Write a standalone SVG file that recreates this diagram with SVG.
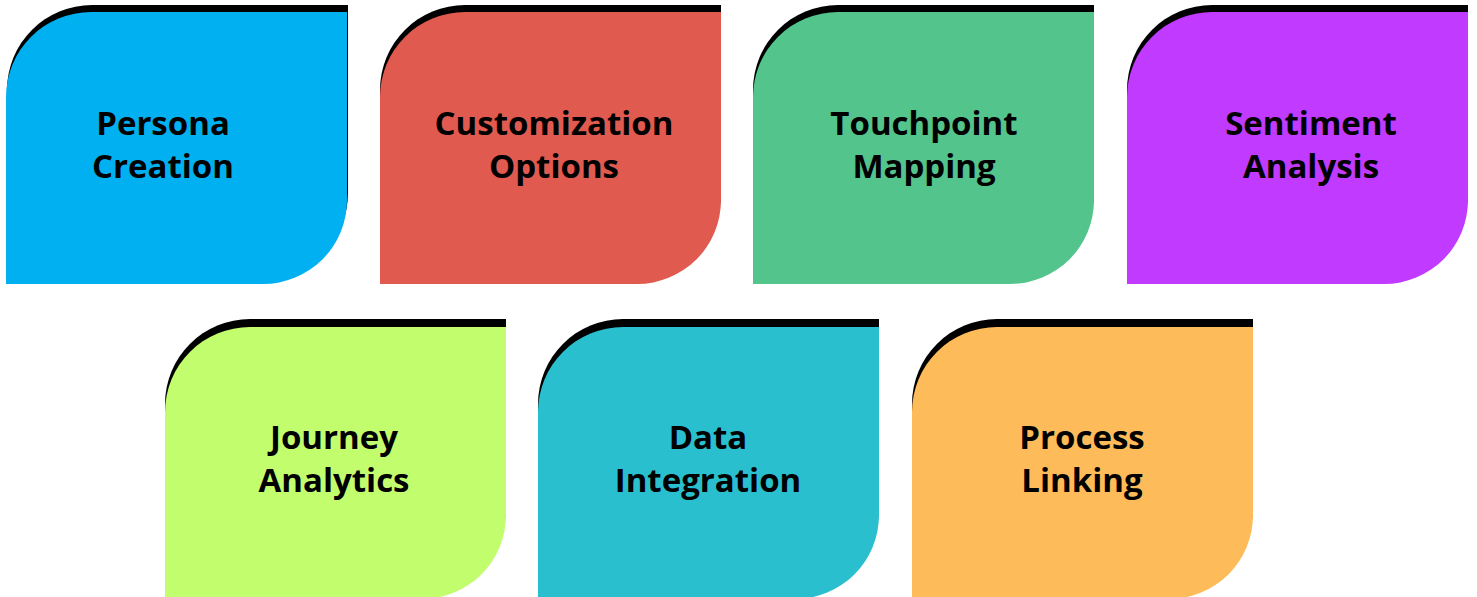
<svg xmlns="http://www.w3.org/2000/svg" width="1477" height="597" viewBox="0 0 1477 597">
<defs>
<style>
.shadow{fill:#000000}
.lbl{font-family:"Open Sans","Noto Sans","Liberation Sans",sans-serif;font-weight:700;font-size:33px;fill:#000000;text-anchor:middle}
</style>
<path id="card" d="M0,85 A85,85 0 0 1 85,0 H341 V188 A84,84 0 0 1 257,272 H0 Z"/>
</defs>
<rect width="1477" height="597" fill="#ffffff"/>
<g id="node-persona">
<use href="#card" class="shadow" x="7" y="5"/>
<use href="#card" fill="#00B0F0" x="6" y="12"/>
<text class="lbl" x="163" y="135">Persona</text>
<text class="lbl" x="163" y="178">Creation</text>
</g>
<g id="node-customization">
<use href="#card" class="shadow" x="380" y="5"/>
<use href="#card" fill="#E15A4F" x="380" y="12"/>
<text class="lbl" x="554" y="135">Customization</text>
<text class="lbl" x="554" y="178">Options</text>
</g>
<g id="node-touchpoint">
<use href="#card" class="shadow" x="753" y="5"/>
<use href="#card" fill="#53C48C" x="753" y="12"/>
<text class="lbl" x="924" y="135">Touchpoint</text>
<text class="lbl" x="924" y="178">Mapping</text>
</g>
<g id="node-sentiment">
<use href="#card" class="shadow" x="1127" y="5"/>
<use href="#card" fill="#C03AFF" x="1127" y="12"/>
<text class="lbl" x="1311" y="135">Sentiment</text>
<text class="lbl" x="1311" y="178">Analysis</text>
</g>
<g id="node-journey">
<use href="#card" class="shadow" x="165" y="319"/>
<use href="#card" fill="#C2FD6E" x="165" y="327"/>
<text class="lbl" x="334" y="449">Journey</text>
<text class="lbl" x="334" y="492">Analytics</text>
</g>
<g id="node-data">
<use href="#card" class="shadow" x="538" y="319"/>
<use href="#card" fill="#2ABFCE" x="538" y="327"/>
<text class="lbl" x="708" y="449">Data</text>
<text class="lbl" x="708" y="492">Integration</text>
</g>
<g id="node-process">
<use href="#card" class="shadow" x="912" y="319"/>
<use href="#card" fill="#FEBB59" x="912" y="327"/>
<text class="lbl" x="1082" y="449">Process</text>
<text class="lbl" x="1082" y="492">Linking</text>
</g>
<g id="connectors"></g>
</svg>
